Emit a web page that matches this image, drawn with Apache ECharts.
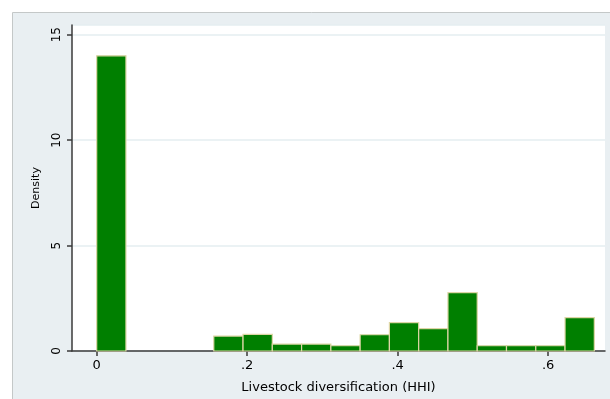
<!DOCTYPE html>
<html>
<head>
<meta charset="utf-8">
<script src="https://cdn.jsdelivr.net/npm/echarts@6/dist/echarts.min.js"></script>
<style>
html,body{margin:0;padding:0;background:#fff;}
#c{width:610px;height:399px;}
</style>
</head>
<body>
<div id="c"></div>
<script>
// Histogram bins (left edges) and density heights
var binLefts = [0, 0.0389, 0.0778, 0.1167, 0.1556, 0.1945, 0.2334, 0.2723, 0.3112, 0.3501, 0.3890, 0.4279, 0.4668, 0.5057, 0.5446, 0.5835, 0.6224];
var binWidth = 0.0389;
var densities = [14.0, 0, 0, 0, 0.71, 0.79, 0.33, 0.33, 0.25, 0.77, 1.35, 1.06, 2.77, 0.25, 0.25, 0.25, 1.58];
var xTicks = [0, 0.2, 0.4, 0.6];
var xTickLabels = ['0', '.2', '.4', '.6'];

var data = [];
for (var i = 0; i < binLefts.length; i++) {
  if (densities[i] > 0) data.push([binLefts[i], binLefts[i] + binWidth, densities[i]]);
}

var chart = echarts.init(document.getElementById('c'), null, {renderer: 'canvas'});
var font = 'DejaVu Sans, sans-serif';
chart.setOption({
  animation: false,
  backgroundColor: '#ffffff',
  graphic: [{
    type: 'rect', silent: true, z: -10,
    shape: {x: 12.5, y: 12.5, width: 620, height: 420},
    style: {fill: '#e9eff2', stroke: '#c4c8c8', lineWidth: 1}
  }],
  grid: {
    left: 72, right: 5, top: 25, bottom: 46,
    show: true, backgroundColor: '#ffffff', borderWidth: 0
  },
  xAxis: {
    type: 'value',
    min: -0.0328, max: 0.6755,
    name: 'Livestock diversification (HHI)',
    nameLocation: 'middle', nameGap: 30,
    nameTextStyle: {color: '#000', fontFamily: font, fontSize: 13},
    axisLine: {show: true, onZero: false, lineStyle: {color: '#3a3a3a', width: 1.5}},
    axisTick: {show: true, length: 5, customValues: xTicks, lineStyle: {color: '#3a3a3a', width: 1.5}},
    axisLabel: {
      show: true, margin: 8, customValues: xTicks, color: '#000', fontFamily: font, fontSize: 13,
      formatter: function (v) {
        for (var k = 0; k < xTicks.length; k++) if (Math.abs(v - xTicks[k]) < 1e-9) return xTickLabels[k];
        return '';
      }
    },
    splitLine: {show: false}
  },
  yAxis: {
    type: 'value',
    min: 0, max: 15.46, interval: 5,
    name: 'Density',
    nameLocation: 'middle', nameGap: 30,
    nameTextStyle: {color: '#000', fontFamily: font, fontSize: 11},
    axisLine: {show: true, onZero: false, lineStyle: {color: '#3a3a3a', width: 1.5}},
    axisTick: {show: true, length: 5, lineStyle: {color: '#3a3a3a', width: 1.5}},
    axisLabel: {show: true, rotate: 90, margin: 9, color: '#000', fontFamily: font, fontSize: 12},
    splitLine: {show: true, lineStyle: {color: '#e4eef1', width: 1.5}}
  },
  series: [{
    type: 'custom',
    data: data,
    encode: {x: [0, 1], y: 2},
    renderItem: function (params, api) {
      var p0 = api.coord([api.value(0), api.value(2)]);
      var p1 = api.coord([api.value(1), 0]);
      return {
        type: 'rect',
        shape: {x: p0[0], y: p0[1], width: p1[0] - p0[0], height: p1[1] - p0[1]},
        style: {fill: '#007f00', stroke: '#ddd6a6', lineWidth: 1.2}
      };
    }
  }]
});
</script>
</body>
</html>
